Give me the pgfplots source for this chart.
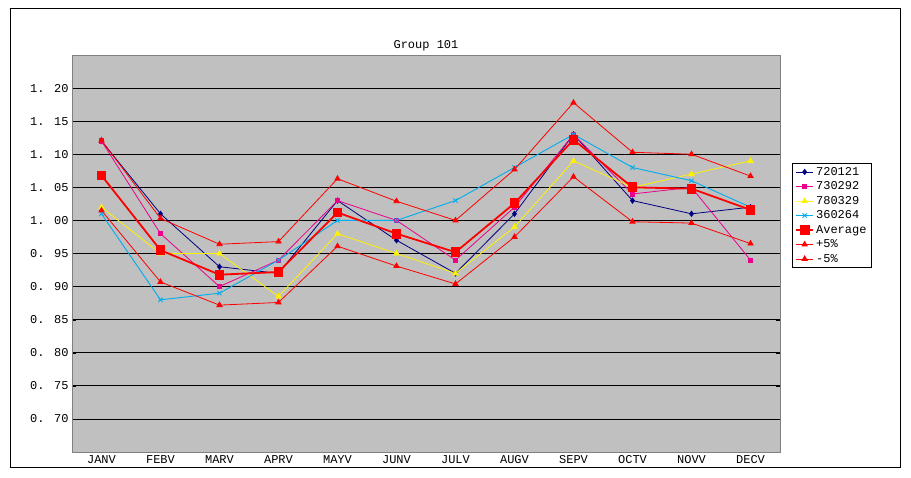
\documentclass[border=0pt]{standalone}
\usepackage{pgfplots}
\pgfplotsset{compat=1.18}
\usepackage{fontspec}
\setmainfont{Liberation Mono}
\begin{document}
\begin{tikzpicture}[x=1pt,y=1pt]
\path (-72,-25) rectangle (839,452);
\draw[black,line width=0.8pt] (-62,-15) rectangle (828,444);
\begin{axis}[at={(0,0)},anchor=south west,scale only axis,width=708pt,height=397pt,
 xmin=-0.5,xmax=11.5,ymin=0.65,ymax=1.25,
 axis background/.style={fill={rgb,255:red,192;green,192;blue,192}},
 axis line style={gray},
 xtick={0,...,11},xticklabels={JANV,FEBV,MARV,APRV,MAYV,JUNV,JULV,AUGV,SEPV,OCTV,NOVV,DECV},
 ytick={0.70,0.75,0.80,0.85,0.90,0.95,1.00,1.05,1.10,1.15,1.20},
 yticklabels={0. 70,0. 75,0. 80,0. 85,0. 90,0. 95,1. 00,1. 05,1. 10,1. 15,1. 20},
 ymajorgrids,grid style={black,line width=0.8pt},
 tick style={black},xtick style={draw=none},
 ticklabel style={font=\large},
 title={Group 101},title style={font=\large,yshift=-6pt},
 legend style={at={(1.017,0.728)},anchor=north west,draw=black,font=\large,cells={anchor=west},row sep=1pt},
 legend cell align=left]
\addplot[color={rgb,255:red,0;green,0;blue,128},line width=0.8pt,mark=diamond*,mark size=2.6pt] coordinates {(0,1.12)(1,1.01)(2,0.93)(3,0.92)(4,1.03)(5,0.97)(6,0.92)(7,1.01)(8,1.13)(9,1.03)(10,1.01)(11,1.02)};
\addlegendentry{720121}
\addplot[color=magenta,line width=0.8pt,mark=square*,mark size=2.2pt] coordinates {(0,1.12)(1,0.98)(2,0.90)(3,0.94)(4,1.03)(5,1.00)(6,0.94)(7,1.02)(8,1.13)(9,1.04)(10,1.05)(11,0.94)};
\addlegendentry{730292}
\addplot[color=yellow,line width=0.8pt,mark=triangle*,mark size=3pt] coordinates {(0,1.02)(1,0.95)(2,0.95)(3,0.885)(4,0.98)(5,0.95)(6,0.92)(7,0.99)(8,1.09)(9,1.05)(10,1.07)(11,1.09)};
\addlegendentry{780329}
\addplot[color=cyan,line width=0.9pt,mark=x,mark size=3pt] coordinates {(0,1.01)(1,0.88)(2,0.89)(3,0.94)(4,1.00)(5,1.00)(6,1.03)(7,1.08)(8,1.13)(9,1.08)(10,1.06)(11,1.02)};
\addlegendentry{360264}
\addplot[color=red,line width=1.8pt,mark=square*,mark size=4pt] coordinates {(0,1.068)(1,0.955)(2,0.918)(3,0.922)(4,1.012)(5,0.98)(6,0.952)(7,1.026)(8,1.122)(9,1.05)(10,1.048)(11,1.016)};
\addlegendentry{Average}
\addplot[color=red,line width=0.8pt,mark=triangle*,mark size=3pt] coordinates {(0,1.121)(1,1.003)(2,0.964)(3,0.968)(4,1.063)(5,1.029)(6,1.000)(7,1.077)(8,1.178)(9,1.103)(10,1.100)(11,1.067)};
\addlegendentry{+5\%}
\addplot[color=red,line width=0.8pt,mark=triangle*,mark size=3pt] coordinates {(0,1.015)(1,0.907)(2,0.872)(3,0.876)(4,0.961)(5,0.931)(6,0.904)(7,0.975)(8,1.066)(9,0.998)(10,0.996)(11,0.965)};
\addlegendentry{-5\%}
\end{axis}
\end{tikzpicture}
\end{document}
